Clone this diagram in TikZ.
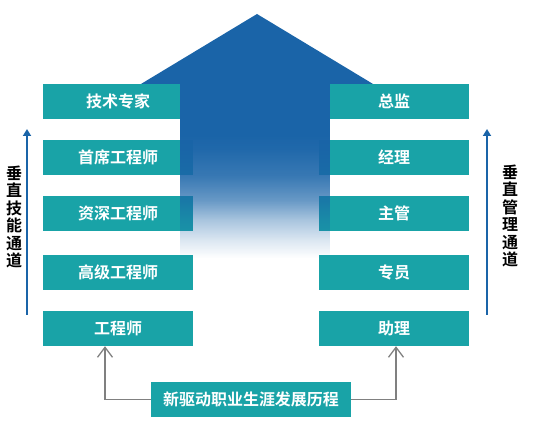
\documentclass[tikz,border=0pt]{standalone}
\usepackage{fontspec}
\newfontfamily\cjk{Noto Sans CJK SC}[BoldFont={Noto Sans CJK SC Bold}]
\usepackage{tikz}
\usetikzlibrary{
  arrows.meta,
  fadings,
  calc
}
\usepackage{xcolor}

\definecolor{boxteal}{HTML}{19A3A7}
\definecolor{houseblue}{HTML}{1A64A8}
\definecolor{linegray}{HTML}{808080}

% white = opaque, black = transparent; the path sees 25bp--75bp
\pgfdeclareverticalshading{columnshade}{100bp}{
  color(0bp)=(black); color(25bp)=(black);
  color(30bp)=(white!15!black); color(36bp)=(white!38!black);
  color(41.5bp)=(white!66!black); color(48.5bp)=(white!87!black);
  color(56bp)=(white!97!black); color(60bp)=(white);
  color(100bp)=(white)}
\pgfdeclarefading{column fade}{\pgfuseshading{columnshade}}

\begin{document}
\begin{tikzpicture}[x = 1pt, y = -1pt]
  \tikzset{>=latex}
  \tikzset{
    stage/.style = {rectangle, fill = boxteal, text = white, inner sep = 0pt,
      minimum width = 150pt, minimum height = 35pt,
      font = \cjk\bfseries\fontsize{16}{16}\selectfont},
    channel/.style = {align = center, inner sep = 0pt,
      font = \cjk\bfseries\fontsize{16}{17.5}\selectfont},
    uparrow/.style = {draw = houseblue, line width = 2.2pt, -{Triangle[length = 7pt, width = 8pt]}},
    feedarrow/.style = {draw = linegray, line width = 1.3pt, -{Straight Barb[length = 10pt, width = 15pt]}}
  }
  \useasboundingbox (0,0) rectangle (539,438);

  \fill[houseblue] (257,14) -- (131,90) -- (383,90) -- cycle;

  \node[stage] (expert) at (118,101.5) {技术专家};
  \node[stage] (chiefeng) at (118,157.5) {首席工程师};
  \node[stage] (seniorplus) at (118,213.5) {资深工程师};
  \node[stage] (senioreng) at (118,272.5) {高级工程师};
  \node[stage] (engineer) at (118,328.5) {工程师};

  \node[stage] (director) at (394,101.5) {总监};
  \node[stage] (manager) at (394,157.5) {经理};
  \node[stage] (supervisor) at (394,213.5) {主管};
  \node[stage] (specialist) at (394,272.5) {专员};
  \node[stage] (assistant) at (394,328.5) {助理};

  % house body over the boxes, fading out downwards
  \fill[houseblue, path fading = column fade] (180,83) rectangle (330,258);

  \node[stage, minimum width = 200pt] (career) at (251,399.5) {新驱动职业生涯发展历程};

  \draw[feedarrow] (career.west) -| ([xshift = -13pt]engineer.south);
  \draw[feedarrow] (career.east) -| ([xshift = 2pt]assistant.south);

  \coordinate (skillbase) at (27,315);
  \coordinate (skilltop) at (27,129);
  \coordinate (managebase) at (487,315);
  \coordinate (managetop) at (487,129);
  \draw[uparrow] (skillbase) -- (skilltop);
  \draw[uparrow] (managebase) -- (managetop);

  \node[channel] (skill) at (14,217) {垂\\直\\技\\能\\通\\道};
  \node[channel] (manage) at (510,216) {垂\\直\\管\\理\\通\\道};
\end{tikzpicture}
\end{document}
